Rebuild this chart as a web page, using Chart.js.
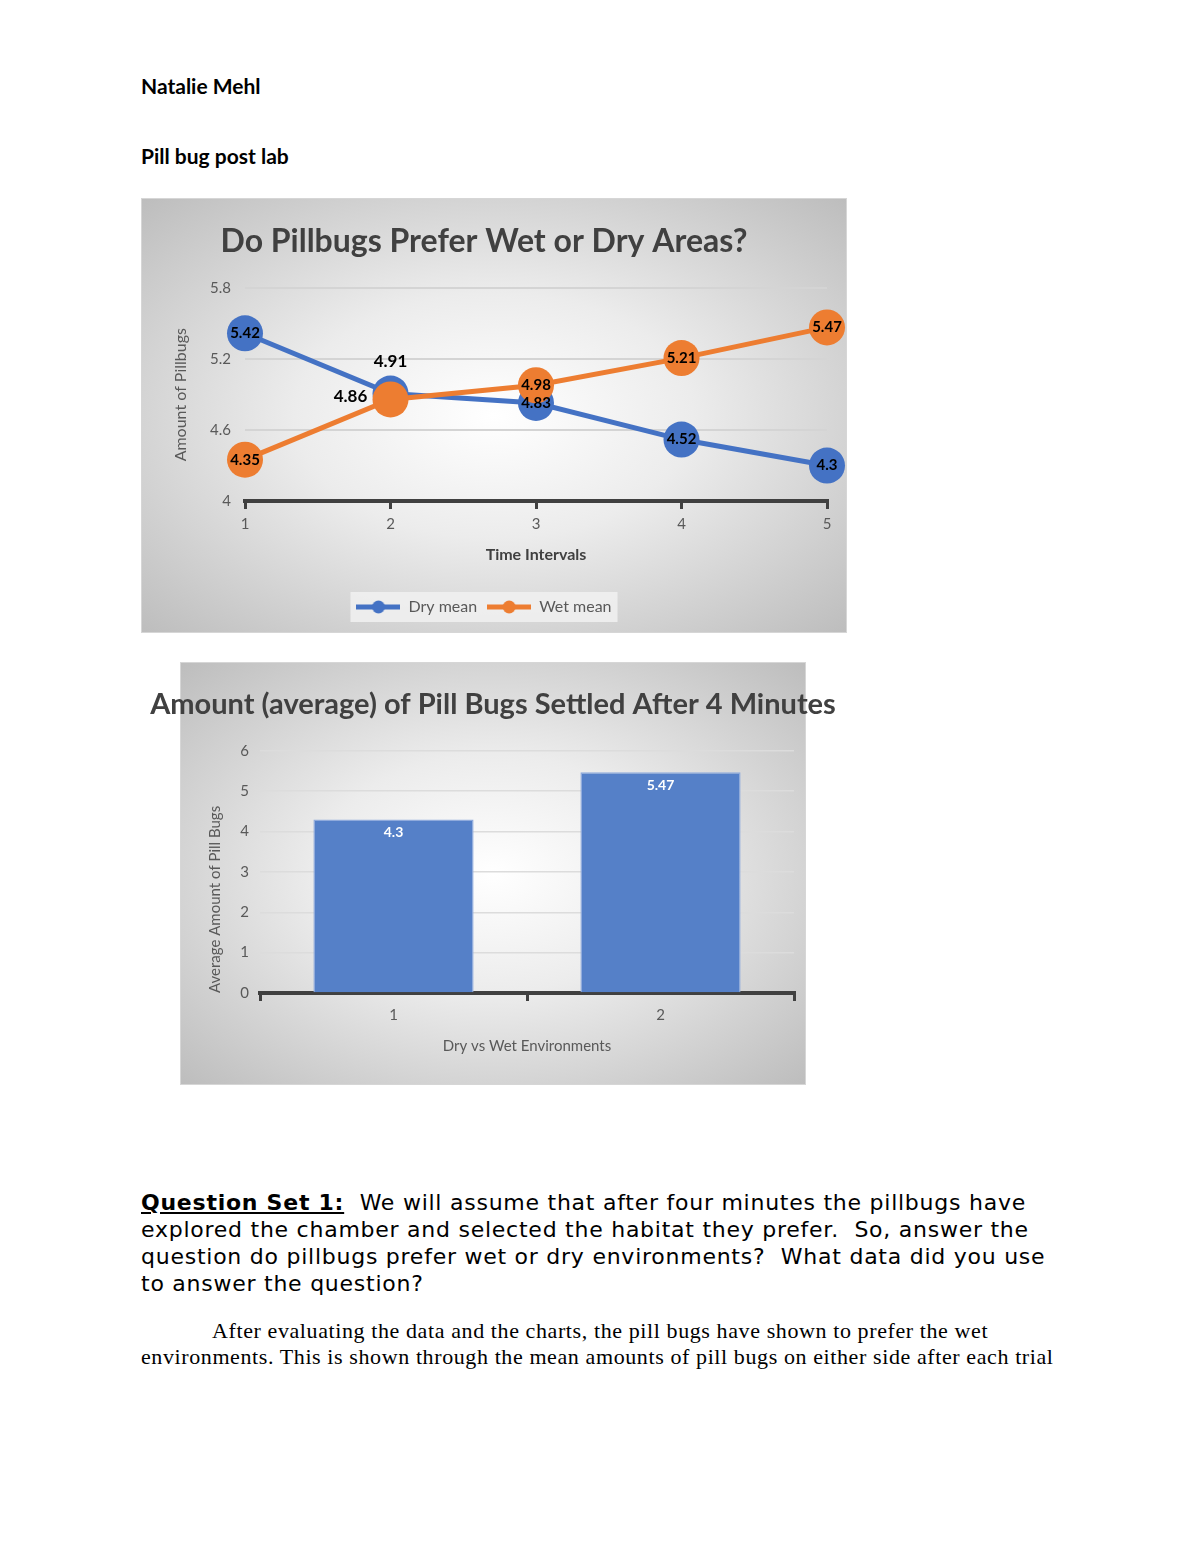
<!DOCTYPE html>
<html>
<head>
<meta charset="utf-8">
<script src="https://cdn.jsdelivr.net/npm/chart.js@4.4.1/dist/chart.umd.min.js"></script>
<style>
    body { margin: 0; width: 1200px; height: 1553px; background: #fff; position: relative; font-family: Lato, sans-serif; color: #000; }
    .line { position: absolute; white-space: nowrap; }
    #name { left: 141px; top: 73px; font-weight: 700; font-size: 21px; line-height: 26px; }
    #sub { left: 141px; top: 143px; font-weight: 700; font-size: 21px; line-height: 26px; }
    .gradbox { position: absolute; background: radial-gradient(ellipse at center, #ffffff 0%, #ececec 40%, #bdbdbd 100%); border: 1px solid #d6d6d6; box-sizing: border-box; }
    #box1 { left: 141px; top: 198px; width: 706px; height: 435px; }
    #box2 { left: 180px; top: 662px; width: 626px; height: 423px; }
    .chartwrap { position: absolute; }
    #wrap1 { left: 141px; top: 198px; width: 706px; height: 435px; }
    #wrap2 { left: 140px; top: 662px; width: 706px; height: 423px; }
    #question { left: 141px; top: 1189px; font-family: 'DejaVu Sans', sans-serif; font-size: 22px; letter-spacing: 0.75px; line-height: 27px; }
    #question b { text-decoration: underline; }
    #answer { left: 141px; top: 1318px; font-family: 'Liberation Serif', serif; font-size: 22px; letter-spacing: 0.6px; line-height: 26px; }
</style>
</head>
<body>
<div class="line" id="name">Natalie Mehl</div>
<div class="line" id="sub">Pill bug post lab</div>

<div class="gradbox" id="box1"></div>
<div class="chartwrap" id="wrap1"><canvas id="lineChart"></canvas></div>

<div class="gradbox" id="box2"></div>
<div class="chartwrap" id="wrap2"><canvas id="barChart"></canvas></div>

<div class="line" id="question">
    <div><b>Question Set 1:</b>&nbsp; We will assume that after four minutes the pillbugs have</div>
    <div>explored the chamber and selected the habitat they prefer.&nbsp; So, answer the</div>
    <div>question do pillbugs prefer wet or dry environments?&nbsp; What data did you use</div>
    <div>to answer the question?</div>
</div>
<div class="line" id="answer">
    <div style="padding-left: 71px">After evaluating the data and the charts, the pill bugs have shown to prefer the wet</div>
    <div>environments. This is shown through the mean amounts of pill bugs on either side after each trial</div>
</div>

<script>
// line chart data
const timeIntervals = ['1', '2', '3', '4', '5'];
const dryMean = [5.42, 4.91, 4.83, 4.52, 4.3];
const wetMean = [4.35, 4.86, 4.98, 5.21, 5.47];
const yTicks1 = [4, 4.6, 5.2, 5.8];

// bar chart data
const environments = ['1', '2'];
const settledAvg = [4.3, 5.47];
const yTicks2 = [0, 1, 2, 3, 4, 5, 6];

const BLUE = '#4472c4';
const ORANGE = '#ed7d31';
const GREY = '#595959';
const DARK = '#404040';

Chart.defaults.font.family = 'Lato, sans-serif';
Chart.defaults.animation = false;
Chart.defaults.plugins.tooltip.enabled = false;

// draws the numbers on the points / bars
const valueLabels = {
    id: 'valueLabels',
    afterDatasetsDraw(chart, args, opts) {
        const ctx = chart.ctx;
        ctx.save();
        ctx.textAlign = 'center';
        ctx.textBaseline = 'middle';
        ctx.fillStyle = opts.color;
        chart.data.datasets.forEach((ds, i) => {
            const meta = chart.getDatasetMeta(i);
            meta.data.forEach((el, j) => {
                const off = opts.offsets && opts.offsets[i] && opts.offsets[i][j];
                ctx.font = off ? opts.outsideFont : opts.font;
                const dx = off ? off[0] : 0;
                const dy = off ? off[1] : (opts.dy || 0);
                ctx.fillText(String(ds.data[j]), el.x + dx, el.y + dy);
            });
        });
        ctx.restore();
    }
};

// light box behind the legend items
const legendBox = {
    id: 'legendBox',
    beforeDraw(chart) {
        const lg = chart.legend;
        if (!lg || !lg.legendHitBoxes || !lg.legendHitBoxes.length) return;
        const boxes = lg.legendHitBoxes;
        const left = Math.min(...boxes.map(b => b.left)) - 6;
        const right = Math.max(...boxes.map(b => b.left + b.width)) + 6;
        const top = Math.min(...boxes.map(b => b.top)) - 7;
        const bottom = Math.max(...boxes.map(b => b.top + b.height)) + 7;
        const ctx = chart.ctx;
        ctx.save();
        ctx.fillStyle = 'rgba(240, 240, 240, 0.9)';
        ctx.fillRect(left, top, right - left, bottom - top);
        ctx.restore();
    }
};

function legendMarker(color) {
    const c = document.createElement('canvas');
    c.width = 44;
    c.height = 14;
    const g = c.getContext('2d');
    g.strokeStyle = color;
    g.lineWidth = 5;
    g.beginPath();
    g.moveTo(0, 7);
    g.lineTo(44, 7);
    g.stroke();
    g.fillStyle = color;
    g.beginPath();
    g.arc(22, 7, 6.5, 0, Math.PI * 2);
    g.fill();
    return c;
}

function initLineChart() {
    const ctx = document.getElementById('lineChart').getContext('2d');
    new Chart(ctx, {
        type: 'line',
        data: {
            labels: timeIntervals,
            datasets: [
                { label: 'Dry mean', data: dryMean, borderColor: BLUE, backgroundColor: BLUE, order: 1 },
                { label: 'Wet mean', data: wetMean, borderColor: ORANGE, backgroundColor: ORANGE, order: 0 }
            ].map(ds => Object.assign(ds, {
                borderWidth: 5,
                pointRadius: 18,
                pointBorderWidth: 0,
                pointBackgroundColor: ds.borderColor,
                tension: 0,
                clip: false
            }))
        },
        options: {
            responsive: true,
            maintainAspectRatio: false,
            layout: { padding: { left: 0, right: 20, top: 0, bottom: 8 } },
            scales: {
                x: {
                    afterFit: s => { s.height = 88; },
                    grid: { drawOnChartArea: false, tickLength: 8, color: DARK, lineWidth: 3 },
                    border: { display: true, color: DARK, width: 4 },
                    ticks: { color: GREY, font: { size: 15 }, padding: 6 },
                    title: { display: true, text: 'Time Intervals', color: DARK, font: { size: 16, weight: 'bold' }, padding: { bottom: 25 } }
                },
                y: {
                    min: 4,
                    max: 5.8,
                    afterBuildTicks: s => { s.ticks = yTicks1.map(v => ({ value: v })); },
                    afterFit: s => { s.width = 104; },
                    grid: { color: '#d4d4d4', lineWidth: 2, drawTicks: false },
                    border: { display: false },
                    ticks: { color: GREY, font: { size: 15 }, padding: 14, callback: v => String(v) },
                    title: { display: true, text: 'Amount of Pillbugs', color: GREY, font: { size: 16 }, padding: { top: 30 } }
                }
            },
            plugins: {
                title: {
                    display: true,
                    text: 'Do Pillbugs Prefer Wet or Dry Areas?',
                    color: DARK,
                    font: { size: 32, weight: 'bold' },
                    padding: { top: 24, bottom: 28 }
                },
                legend: {
                    position: 'bottom',
                    labels: {
                        usePointStyle: true,
                        pointStyleWidth: 44,
                        boxHeight: 14,
                        color: GREY,
                        font: { size: 16 },
                        padding: 10,
                        generateLabels: chart => chart.data.datasets.map((ds, i) => ({
                            text: ds.label,
                            datasetIndex: i,
                            pointStyle: legendMarker(ds.borderColor),
                            fillStyle: 'transparent',
                            strokeStyle: 'transparent',
                            lineWidth: 0,
                            fontColor: GREY,
                            hidden: false
                        }))
                    }
                },
                valueLabels: {
                    color: '#000',
                    font: 'bold 15px Lato',
                    outsideFont: 'bold 17px Lato',
                    offsets: [[null, [0, -32]], [null, [-40, -3]]]
                }
            }
        },
        plugins: [valueLabels, legendBox]
    });
}

function initBarChart() {
    const ctx = document.getElementById('barChart').getContext('2d');
    new Chart(ctx, {
        type: 'bar',
        data: {
            labels: environments,
            datasets: [{
                label: 'Average',
                data: settledAvg,
                backgroundColor: '#5580c8',
                borderColor: '#8faadc',
                borderWidth: 1.5,
                categoryPercentage: 1,
                barPercentage: 0.6
            }]
        },
        options: {
            responsive: true,
            maintainAspectRatio: false,
            layout: { padding: 0 },
            scales: {
                x: {
                    afterFit: s => { s.height = 92; },
                    grid: { drawOnChartArea: false, tickLength: 8, color: DARK, lineWidth: 3 },
                    border: { display: true, color: DARK, width: 4 },
                    ticks: { color: GREY, font: { size: 15 }, padding: 5 },
                    title: { display: true, text: 'Dry vs Wet Environments', color: GREY, font: { size: 15 }, padding: { bottom: 30 } }
                },
                y: {
                    min: 0,
                    max: 6,
                    afterBuildTicks: s => { s.ticks = yTicks2.map(v => ({ value: v })); },
                    afterFit: s => { s.width = 120; },
                    grid: { color: '#dcdcdc', lineWidth: 1.5, drawTicks: false },
                    border: { display: false },
                    ticks: { color: GREY, font: { size: 15 }, padding: 11 },
                    title: { display: true, text: 'Average Amount of Pill Bugs', color: GREY, font: { size: 15 }, align: 'start', padding: { top: 66 } }
                },
                // empty right axis, only keeps the plot narrower than the title
                yr: {
                    position: 'right',
                    afterFit: s => { s.width = 52; },
                    grid: { display: false },
                    border: { display: false },
                    ticks: { display: false }
                }
            },
            plugins: {
                title: {
                    display: true,
                    text: 'Amount (average) of Pill Bugs Settled After 4 Minutes',
                    color: DARK,
                    font: { size: 29, weight: 'bold' },
                    padding: { top: 25, bottom: 29 }
                },
                legend: { display: false },
                valueLabels: {
                    color: '#fff',
                    font: 'bold 14px Lato',
                    dy: 13
                }
            }
        },
        plugins: [valueLabels]
    });
}

initLineChart();
initBarChart();
</script>
</body>
</html>
